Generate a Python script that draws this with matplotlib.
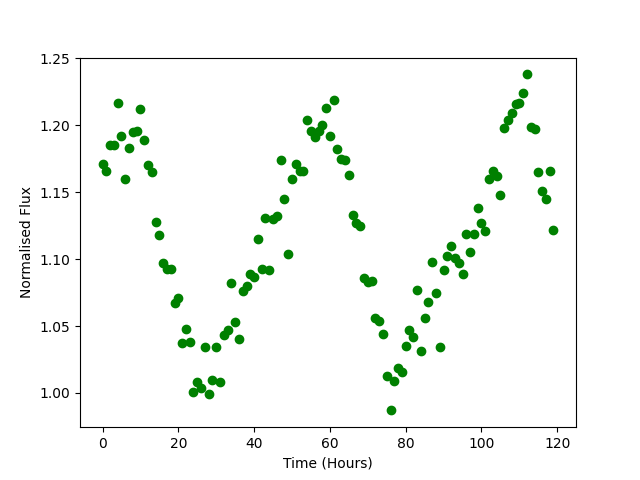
import matplotlib
matplotlib.use('Agg')
import matplotlib.pyplot as plt

hours = list(range(120))
flux = [1.171, 1.166, 1.185, 1.185, 1.217, 1.192, 1.160, 1.183, 1.195, 1.196,
        1.212, 1.189, 1.170, 1.165, 1.128, 1.118, 1.097, 1.093, 1.093, 1.067,
        1.071, 1.037, 1.048, 1.038, 1.001, 1.008, 1.004, 1.034, 0.999, 1.010,
        1.034, 1.008, 1.043, 1.047, 1.082, 1.053, 1.040, 1.076, 1.080, 1.089,
        1.087, 1.115, 1.093, 1.131, 1.092, 1.130, 1.132, 1.174, 1.145, 1.104,
        1.160, 1.171, 1.166, 1.166, 1.204, 1.196, 1.191, 1.196, 1.200, 1.213,
        1.192, 1.219, 1.182, 1.175, 1.174, 1.163, 1.133, 1.127, 1.125, 1.086,
        1.083, 1.084, 1.056, 1.054, 1.044, 1.013, 0.987, 1.009, 1.019, 1.016,
        1.035, 1.047, 1.042, 1.077, 1.031, 1.056, 1.068, 1.098, 1.075, 1.034,
        1.092, 1.102, 1.110, 1.101, 1.097, 1.089, 1.119, 1.105, 1.119, 1.138,
        1.127, 1.121, 1.160, 1.166, 1.162, 1.148, 1.198, 1.204, 1.209, 1.216,
        1.217, 1.224, 1.238, 1.199, 1.197, 1.165, 1.151, 1.145, 1.166, 1.122]

plt.figure(figsize=(6.4, 4.8), dpi=100)
plt.plot(hours, flux, 'go')
plt.xlabel('Time (Hours)')
plt.ylabel('Normalised Flux')
plt.savefig('out.png')
